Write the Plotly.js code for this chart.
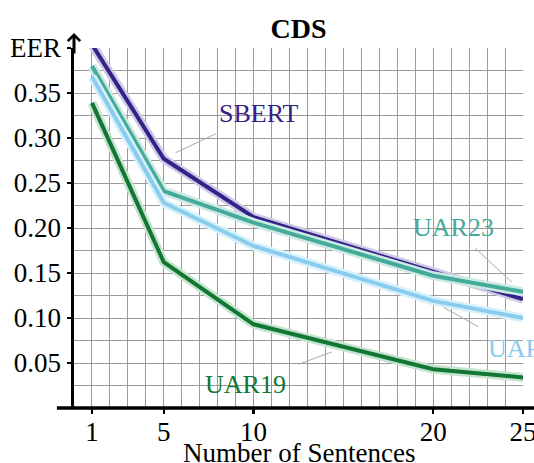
<!DOCTYPE html>
<html>
<head>
<meta charset="utf-8">
<script src="https://cdn.plot.ly/plotly-3.0.1.min.js"></script>
<style>html,body{margin:0;padding:0;background:#fff;}#chart{width:534px;height:463px;}</style>
</head>
<body>
<div id="chart"></div>
<script>
// ---- data ----
const sentences = [1, 5, 10, 20, 25];
const sbert = [0.404, 0.277, 0.212, 0.152, 0.121];
const uar23 = [0.380, 0.241, 0.206, 0.147, 0.129];
const uar   = [0.368, 0.228, 0.180, 0.119, 0.100];
const uar19 = [0.339, 0.162, 0.093, 0.043, 0.034];
const seriesNames = ['SBERT', 'UAR23', 'UAR', 'UAR19'];
const xTickVals = [1, 5, 10, 20, 25];
const yTickVals = [0.05, 0.10, 0.15, 0.20, 0.25, 0.30, 0.35, 0.40];
const yTickText = ['0.05', '0.10', '0.15', '0.20', '0.25', '0.30', '0.35', 'EER'];

// ---- styling ----
const FONT = 'Liberation Serif';
const colors = {SBERT: '#332288', UAR23: '#44AA99', UAR: '#88CCEE', UAR19: '#117733'};
const halos  = {SBERT: '#cdc8e4', UAR23: '#cce9e3', UAR: '#d8f0fa', UAR19: '#c6e3cf'};
const values = {SBERT: sbert, UAR23: uar23, UAR: uar, UAR19: uar19};

const traces = [];
seriesNames.forEach(n => {
  traces.push({x: sentences, y: values[n], mode: 'lines', line: {color: halos[n], width: 9}, hoverinfo: 'skip', showlegend: false});
  traces.push({x: sentences, y: values[n], mode: 'lines', line: {color: colors[n], width: 4}, name: n, showlegend: false});
});

// label placement (annotation text + leader line), in data units
const labelPos = {
  SBERT: {x: 10.26, y: 0.3276, lx: [5.66, 7.9], ly: [0.2837, 0.3047]},
  UAR23: {x: 21.12, y: 0.2009, lx: [22.34, 24.38], ly: [0.1777, 0.1397]},
  UAR:   {x: 24.62, y: 0.0664, lx: [20.58, 22.52], ly: [0.1118, 0.0902]},
  UAR19: {x: 9.53,  y: 0.0257, lx: [12.5, 14.36], ly: [0.0485, 0.0623]}
};

const annotations = seriesNames.map(n => ({
  x: labelPos[n].x, y: labelPos[n].y, xref: 'x', yref: 'y', text: n, showarrow: false,
  font: {family: FONT, size: 26, color: colors[n]}, xanchor: 'center', yanchor: 'middle'
}));
// axis arrow at top of y axis
annotations.push({x: 0, y: 1.0417, xref: 'paper', yref: 'paper', ax: 0, ay: 22, axref: 'pixel', ayref: 'pixel',
  showarrow: true, arrowhead: 4, arrowsize: 0.8, arrowwidth: 3, arrowcolor: '#000', text: ''});
// x axis title
annotations.push({x: 0.5, y: -0.125, xref: 'paper', yref: 'paper', text: 'Number of Sentences', showarrow: false,
  font: {family: FONT, size: 27, color: '#000'}, xanchor: 'center', yanchor: 'middle'});

const shapes = seriesNames.map(n => ({
  type: 'line', xref: 'x', yref: 'y', x0: labelPos[n].lx[0], x1: labelPos[n].lx[1], y0: labelPos[n].ly[0], y1: labelPos[n].ly[1],
  line: {color: '#a8a8a8', width: 1}
}));
// x axis baseline extended past the y axis
shapes.push({type: 'line', xref: 'paper', yref: 'paper', x0: -0.038, x1: 1.05, y0: 0, y1: 0, line: {color: '#000', width: 3.5}});

const gridColor = '#9a9a9a';
const layout = {
  width: 534, height: 463,
  margin: {l: 74, r: 11, t: 48, b: 55},
  paper_bgcolor: '#fff', plot_bgcolor: '#fff',
  font: {family: FONT, color: '#000'},
  title: {text: '<b>CDS</b>', font: {family: FONT, size: 28, color: '#000', weight: 'bold'}, x: 0.5, xref: 'paper', xanchor: 'center', y: 0.94, yanchor: 'middle'},
  xaxis: {
    range: [0, 25], tickmode: 'array', tickvals: xTickVals, ticktext: xTickVals.map(String),
    showgrid: true, gridcolor: gridColor, gridwidth: 1, zeroline: false, showline: false,
    ticks: 'outside', ticklen: 5, tickwidth: 2.5, tickcolor: '#000',
    tickfont: {family: FONT, size: 27, color: '#000'},
    ticklabeloverflow: 'allow', ticklabelstandoff: -5,
    minor: {tickmode: 'linear', tick0: 0, dtick: 1, showgrid: true, gridcolor: gridColor, gridwidth: 1, ticks: ''},
    fixedrange: true
  },
  yaxis: {
    range: [0, 0.4], tickmode: 'array', tickvals: yTickVals, ticktext: yTickText,
    showgrid: true, gridcolor: gridColor, gridwidth: 1, zeroline: false,
    showline: true, linecolor: '#000', linewidth: 3.5,
    ticks: 'outside', ticklen: 4, tickwidth: 2.5, tickcolor: '#000',
    tickfont: {family: FONT, size: 27, color: '#000'},
    minor: {tickmode: 'linear', tick0: 0, dtick: 0.025, showgrid: true, gridcolor: gridColor, gridwidth: 1, ticks: ''},
    fixedrange: true
  },
  annotations: annotations,
  shapes: shapes,
  showlegend: false
};

Plotly.newPlot('chart', traces, layout, {displayModeBar: false, staticPlot: true});
</script>
</body>
</html>
